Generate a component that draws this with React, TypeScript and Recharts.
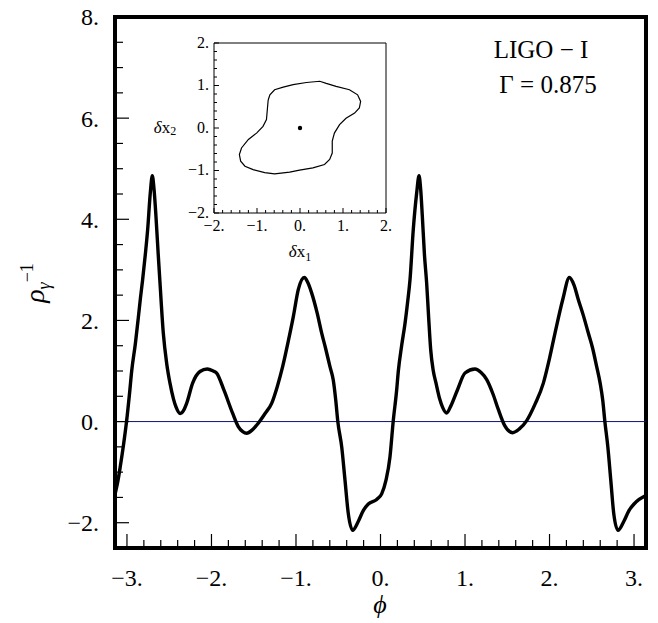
import React from 'react';
import {
  LineChart,
  Line,
  XAxis,
  YAxis,
  ReferenceLine,
  ReferenceArea,
  ScatterChart,
  Scatter
} from 'recharts';

// main curve
const phi = [
  -3.14, -3.11, -3.08, -3.04, -3.005, -2.97, -2.944, -2.9, -2.866, -2.84,
  -2.815, -2.78, -2.755, -2.724, -2.7, -2.68, -2.657, -2.63, -2.609, -2.57,
  -2.53, -2.491, -2.45, -2.42, -2.37, -2.33, -2.294, -2.223, -2.136, -2.05,
  -1.98, -1.939, -1.852, -1.749, -1.683, -1.63, -1.583, -1.52, -1.446, -1.37,
  -1.288, -1.22, -1.158, -1.09, -1.031, -0.973, -0.902, -0.86, -0.814, -0.75,
  -0.696, -0.65, -0.598, -0.559, -0.53, -0.505, -0.459, -0.42, -0.381, -0.33,
  -0.262, -0.204, -0.144, -0.045, 0.014, 0.065, 0.112, 0.15, 0.191, 0.211,
  0.25, 0.29, 0.32, 0.349, 0.388, 0.428, 0.456, 0.475, 0.495, 0.52,
  0.546, 0.57, 0.594, 0.625, 0.657, 0.7, 0.735, 0.783, 0.83, 0.909,
  1.0, 1.118, 1.19, 1.257, 1.33, 1.394, 1.47, 1.564, 1.64, 1.73,
  1.83, 1.927, 2.0, 2.065, 2.156, 2.235, 2.29, 2.341, 2.4, 2.459,
  2.51, 2.558, 2.6, 2.629, 2.655, 2.69, 2.725, 2.76, 2.81, 2.88,
  2.94, 3.0, 3.06, 3.14
];
const rhoInv = [
  -1.43, -1.2, -0.9, -0.45, 0, 0.55, 1.0, 1.55, 2.05, 2.45,
  2.8, 3.35, 3.8, 4.52, 4.86, 4.6, 4.06, 3.3, 2.74, 1.75,
  1.15, 0.76, 0.45, 0.29, 0.16, 0.22, 0.36, 0.76, 0.99, 1.04,
  1.0, 0.96, 0.62, 0.16, -0.1, -0.2, -0.23, -0.17, -0.03, 0.15,
  0.36, 0.7, 1.085, 1.6, 2.08, 2.61, 2.85, 2.75, 2.54, 2.15,
  1.75, 1.45, 1.085, 0.82, 0.43, 0, -0.5, -1.16, -1.82, -2.15,
  -1.97, -1.76, -1.63, -1.54, -1.43, -1.16, -0.7, 0, 0.62, 1.0,
  1.5, 1.94, 2.35, 2.8, 3.8, 4.52, 4.86, 4.6, 4.06, 3.3,
  2.74, 2.05, 1.42, 1.0, 0.76, 0.45, 0.28, 0.17, 0.3, 0.62,
  0.96, 1.04, 0.97, 0.83, 0.55, 0.24, -0.08, -0.22, -0.15, 0.02,
  0.35, 0.76, 1.25, 1.75, 2.41, 2.85, 2.7, 2.41, 2.1, 1.75,
  1.45, 1.085, 0.75, 0.43, 0, -0.5, -1.16, -1.82, -2.15, -1.97,
  -1.76, -1.63, -1.54, -1.46
];

// inset contour (closed loop)
const dx1 = [
  -0.74, -0.7, -0.59, -0.39, -0.16, 0.15, 0.46, 0.61, 0.84, 1.15,
  1.34, 1.41, 1.38, 1.27, 1.07, 0.92, 0.8, 0.75, 0.75, 0.69,
  0.57, 0.3, -0.01, -0.24, -0.59, -0.82, -1.09, -1.28, -1.38, -1.41,
  -1.36, -1.2, -1.01, -0.86, -0.78, -0.76, -0.74
];
const dx2 = [
  0.66, 0.78, 0.9, 0.96, 1.02, 1.07, 1.1, 1.05, 0.98, 0.9,
  0.78, 0.625, 0.47, 0.35, 0.23, 0.08, -0.12, -0.31, -0.59, -0.74,
  -0.86, -0.94, -0.99, -1.04, -1.08, -1.05, -0.98, -0.9, -0.78, -0.625,
  -0.47, -0.27, -0.12, 0.04, 0.2, 0.43, 0.66
];
const origin = [{ x: 0, y: 0 }];

const phiTicks = Array.from({ length: 31 }, (_, i) => Math.round((-3 + i * 0.2) * 10) / 10);
const rhoTicks = Array.from({ length: 22 }, (_, i) => -2.5 + i * 0.5);
const insetTicks = Array.from({ length: 21 }, (_, i) => Math.round((-2 + i * 0.2) * 10) / 10);

const mainData = phi.map((p, i) => ({ phi: p, rho: rhoInv[i] }));
const contour = dx1.map((x, i) => ({ x, y: dx2[i] }));

const FONT = "'Liberation Serif', 'Times New Roman', serif";

const isInt = (v: number) => Math.abs(v - Math.round(v)) < 1e-6;
const fmt = (v: number) => {
  const r = Math.round(v);
  return r < 0 ? `\u2212${Math.abs(r)}.` : `${r}.`;
};

const MainXTick = (props: any) => {
  const { x, y, payload } = props;
  const major = isInt(payload.value);
  return (
    <g>
      <line x1={x} y1={y} x2={x} y2={y - (major ? 14 : 8)} stroke="#000" strokeWidth={1.2} />
      {major && (
        <text x={x} y={y + 38} textAnchor="middle" fill="#000" style={{ fontFamily: FONT, fontSize: 24 }}>
          {fmt(payload.value)}
        </text>
      )}
    </g>
  );
};

const MainYTick = (props: any) => {
  const { x, y, payload } = props;
  const v = payload.value;
  const major = isInt(v) && Math.round(v) % 2 === 0;
  return (
    <g>
      <line x1={x} y1={y} x2={x + (major ? 14 : 8)} y2={y} stroke="#000" strokeWidth={1.2} />
      {major && (
        <text x={x - 16} y={y} dy="0.35em" textAnchor="end" fill="#000" style={{ fontFamily: FONT, fontSize: 24 }}>
          {fmt(v)}
        </text>
      )}
    </g>
  );
};

const InsetXTick = (props: any) => {
  const { x, y, payload } = props;
  const major = isInt(payload.value);
  return (
    <g>
      <line x1={x} y1={y} x2={x} y2={y - (major ? 5 : 3)} stroke="#000" strokeWidth={1} />
      {major && (
        <text x={x} y={y + 18} textAnchor="middle" fill="#000" style={{ fontFamily: FONT, fontSize: 16 }}>
          {fmt(payload.value)}
        </text>
      )}
    </g>
  );
};

const InsetYTick = (props: any) => {
  const { x, y, payload } = props;
  const major = isInt(payload.value);
  return (
    <g>
      <line x1={x} y1={y} x2={x + (major ? 5 : 3)} y2={y} stroke="#000" strokeWidth={1} />
      {major && (
        <text x={x - 5} y={y} dy="0.3em" textAnchor="end" fill="#000" style={{ fontFamily: FONT, fontSize: 16 }}>
          {fmt(payload.value)}
        </text>
      )}
    </g>
  );
};

const noDot = () => <g />;
const blackDot = (p: any) => <circle cx={p.cx} cy={p.cy} r={2.2} fill="#000" />;

export default function App() {
  return (
    <div style={{ position: 'absolute', left: 0, top: 0, width: 658, height: 623, background: '#fff', fontFamily: FONT }}>
      <div style={{ position: 'absolute', left: 0, top: 0 }}>
        <LineChart
          width={658}
          height={623}
          data={mainData}
          margin={{ top: 17, right: 12, bottom: 35, left: 55 }}
        >
          <XAxis
            dataKey="phi"
            type="number"
            domain={[-Math.PI, Math.PI]}
            allowDataOverflow
            ticks={phiTicks}
            interval={0}
            tickSize={0}
            tickMargin={0}
            tickLine={false}
            axisLine={false}
            height={40}
            tick={MainXTick}
          />
          <YAxis
            type="number"
            domain={[-2.5, 8]}
            allowDataOverflow
            ticks={rhoTicks}
            interval={0}
            tickSize={0}
            tickMargin={0}
            tickLine={false}
            axisLine={false}
            width={60}
            tick={MainYTick}
          />
          <ReferenceLine y={0} stroke="#101070" strokeWidth={1} />
          <Line
            type="monotone"
            dataKey="rho"
            stroke="#000"
            strokeWidth={3.4}
            dot={false}
            isAnimationActive={false}
          />
          <ReferenceArea
            x1={-Math.PI}
            x2={Math.PI}
            y1={-2.5}
            y2={8}
            stroke="#000"
            strokeWidth={4}
            fill="none"
            fillOpacity={0}
            ifOverflow="visible"
          />
        </LineChart>
      </div>

      <div style={{ position: 'absolute', left: 140, top: 20 }}>
        <ScatterChart width={260} height={250} margin={{ top: 23, right: 14, bottom: 27, left: 44 }}>
          <XAxis
            dataKey="x"
            type="number"
            domain={[-2, 2]}
            allowDataOverflow
            ticks={insetTicks}
            interval={0}
            tickSize={0}
            tickMargin={0}
            tickLine={false}
            axisLine={false}
            height={30}
            tick={InsetXTick}
          />
          <YAxis
            dataKey="y"
            type="number"
            domain={[-2, 2]}
            allowDataOverflow
            ticks={insetTicks}
            interval={0}
            tickSize={0}
            tickMargin={0}
            tickLine={false}
            axisLine={false}
            width={30}
            tick={InsetYTick}
          />
          <ReferenceArea
            x1={-2}
            x2={2}
            y1={-2}
            y2={2}
            stroke="#000"
            strokeWidth={1}
            fill="none"
            fillOpacity={0}
            ifOverflow="visible"
          />
          <Scatter
            data={contour}
            line={{ stroke: '#000', strokeWidth: 1.2 }}
            shape={noDot}
            isAnimationActive={false}
          />
          <Scatter data={origin} shape={blackDot} isAnimationActive={false} />
        </ScatterChart>
      </div>

      <svg
        width={658}
        height={623}
        style={{ position: 'absolute', left: 0, top: 0, pointerEvents: 'none', fontFamily: FONT }}
      >
        <text transform="rotate(-90 44 283)" x={44} y={283} textAnchor="middle" fill="#000">
          <tspan fontStyle="italic" fontSize={28}>ρ</tspan>
          <tspan fontStyle="italic" fontSize={18} dy={6}>γ</tspan>
          <tspan fontSize={18} dy={-17}>{'\u22121'}</tspan>
        </text>
        <text x={380} y={613} textAnchor="middle" fontSize={26} fontStyle="italic" fill="#000">
          ϕ
        </text>
        <text x={541} y={58} textAnchor="middle" fontSize={25} fill="#000">
          {'LIGO \u2212 I'}
        </text>
        <text x={548} y={93} textAnchor="middle" fontSize={25} fill="#000">
          {'Γ = 0.875'}
        </text>
        <text x={300} y={257} textAnchor="middle" fontSize={17} fill="#000">
          <tspan fontStyle="italic">δ</tspan>
          <tspan>x</tspan>
          <tspan fontSize={12} dy={4}>1</tspan>
        </text>
        <text x={165} y={133} textAnchor="middle" fontSize={17} fill="#000">
          <tspan fontStyle="italic">δ</tspan>
          <tspan>x</tspan>
          <tspan fontSize={12} dy={2}>2</tspan>
        </text>
      </svg>
    </div>
  );
}
